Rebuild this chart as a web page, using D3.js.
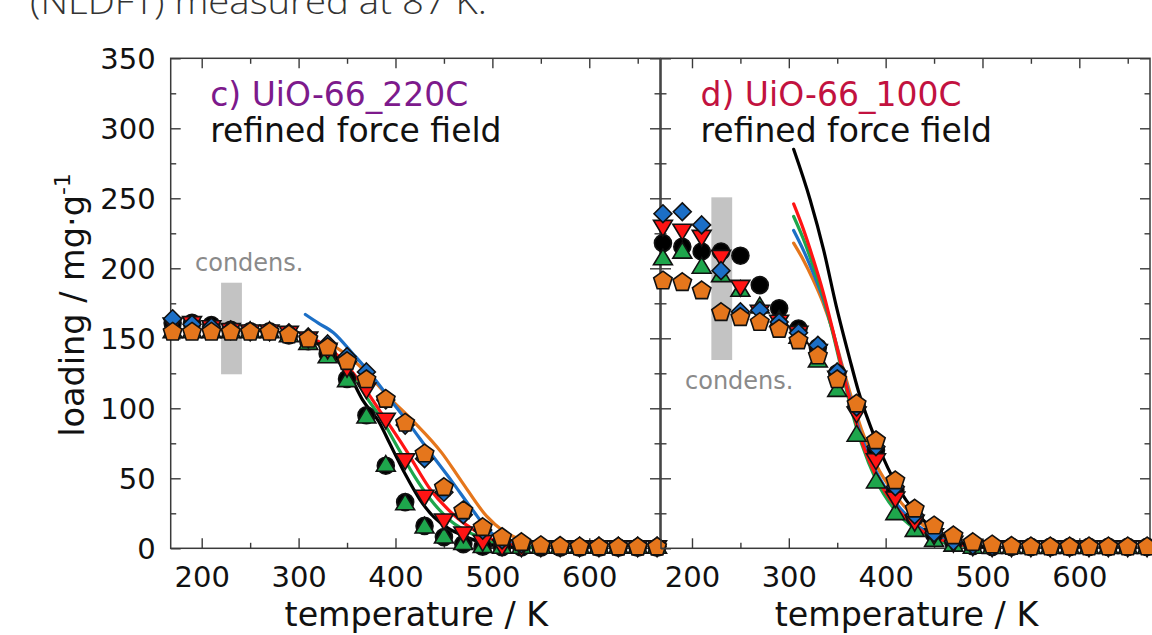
<!DOCTYPE html>
<html><head><meta charset="utf-8">
<script src="https://cdn.jsdelivr.net/npm/d3@7"></script>
<style>body{margin:0;background:#fff;overflow:hidden}svg{display:block}</style>
</head><body>
<svg id="chart" width="1152" height="635"></svg>
<script>
// ---------------- data ----------------
const temperatures = [170,190,210,230,250,270,290,310,330,350,370,390,410,430,450,470,490,510,530,550,570,590,610,630,650,670];

// panel c) UiO-66_220C  (experimental markers)
const c_black  = [161,161,159.5,156,155,155,152,148,139,121,95,59,33,16,8,3,1.2,0.8,0.6,0.5,0.5,0.5,0.5,0.5,0.5,0.5];
const c_blue   = [164,160,158,156,155,155,154,151,146,137,126,106,88,64,40,24,13,6,3,1.8,1.5,1.5,1.5,1.5,1.5,1.5];
const c_red    = [160,161,158,156,155,155,154,150,142,129,113.6,92,63,37,20,10.7,4.7,1.5,0.8,0.8,0.8,0.8,0.8,0.8,0.8,0.8];
const c_green  = [155,155,155,155,155,155,152,146.6,137,120,94,59.5,32,15.4,8.3,3.6,1.5,1,1,1,1,1,1,1,1,1];
const c_orange = [155,155,155,155,155,155,153,150,144,134,121,107,90,68,44,27.4,15.4,8.3,4.7,2.5,2,1.6,1.5,1.5,1.5,1.5];

// panel c) simulated curves [T, loading]
const c_lineBlack  = [[320,146],[335,139],[350,127],[366,106],[384,89],[394,75],[410,53],[425,35],[440,22],[455,14],[470,9],[490,4],[510,1.5],[530,0.6]];
const c_lineGreen  = [[320,146],[345,132],[358,122],[370,108],[384,94],[404,70],[420,51],[436,35],[458,19],[480,10],[500,4.5],[520,1.5],[540,0.5]];
const c_lineRed    = [[320,148],[340,138],[360,122],[384,98],[411,70],[436,42],[460,24],[487,10.7],[505,5],[520,2.5]];
const c_lineBlue   = [[307,167],[320,161],[336,154],[356,139],[375,124],[395,106],[415,88],[434,70],[458,48],[480,27],[497,12],[510,6],[525,2.5],[545,0.8]];
const c_lineOrange = [[328,148],[350,138],[372,124],[393,108],[418,91],[448,68],[468,48],[494,23],[512,12],[530,6],[550,2.5],[570,1]];

// panel d) UiO-66_100C
const d_black  = [218,215.4,212,212,209,188,171.4,157,143.5,125,102,70,41.6,22,10,4,1.5,1,1,1,1,1,1,1,1,1];
const d_blue   = [239,240.4,231,198.3,169,170,161.6,154,145,126,101,72.6,44,23.8,11,5,2,1.2,1,1,1,1,1,1,1,1];
const d_red    = [229.7,227,222.6,208.3,186.9,169,162,154,141,122,96.4,63,35.7,19,9.5,4,1.5,0.8,0.8,0.8,0.8,0.8,0.8,0.8,0.8,0.8];
const d_green  = [207,211.8,201,195,184.5,172.6,163,151,134,113,81,47.6,25,13,5.9,2.5,1,0.8,0.8,0.8,0.8,0.8,0.8,0.8,0.8,0.8];
const d_orange = [191.6,190.4,184.5,169,165.4,161.9,157,148.8,138,121,103.6,77.4,48.8,28.6,16.6,9.5,4.7,3,2,1.6,1.6,1.6,1.6,1.6,1.6,1.6];

const d_lineBlack  = [[305,285],[322,249],[336,213],[349,173],[363,135],[372,112],[390,77],[414,42],[442,18],[469,6],[494,1.5],[510,0.5]];
const d_lineRed    = [[305,246],[315,228],[325,207],[335,184],[345,157],[355,128],[365,101],[375,77],[390,52],[410,30],[430,16],[450,8],[470,3.5],[490,1.2]];
const d_lineGreen  = [[305,237],[315,221],[325,202],[335,181],[345,155],[355,126],[365,98],[375,75],[390,49],[410,27],[430,14],[450,6.5],[470,2.5],[490,1]];
const d_lineBlue   = [[305,227],[315,213],[325,197],[335,179],[345,156],[355,129],[365,103],[375,80],[390,55],[410,33],[430,18],[450,9],[470,4],[490,1.5]];
const d_lineOrange = [[305,218],[315,206],[325,192],[335,176],[345,156],[355,131],[365,107],[375,85],[390,60],[410,38],[430,22],[450,11],[470,5],[490,2],[510,0.8]];

// condensation bands [T0, T1, load0, load1]
const c_condens = [220, 241.5, 124.3, 189.7];
const d_condens = [220, 241.5, 134.5, 250.7];

const xTicksMajor = [200,300,400,500,600];
const xTicksMinor = [250,350,450,550,650];
const yTicksMajor = [0,50,100,150,200,250,300,350];
const yTicksMinor = [25,75,125,175,225,275,325];

const titleText = "(NLDFT) measured at 87 K.";

// ---------------- drawing ----------------
const svg = d3.select("#chart");
const FONT = "DejaVu Sans, sans-serif";
const COL = {black:"#000000", blue:"#1c6fc6", red:"#ff1414", green:"#1ea64c", orange:"#e5761c"};

svg.append("text").attr("x",30).attr("y",14).attr("font-family","Open Sans, sans-serif")
  .attr("font-weight",300).attr("font-size",35).attr("fill","#333")
  .attr("textLength",457).attr("lengthAdjust","spacingAndGlyphs").text(titleText);

const yTop = 58.3, yBot = 548.3;
const y = d3.scaleLinear().domain([0,350]).range([yBot, yTop]);

function symPath(type, r){
  const p = d3.path();
  if(type==="circle"){ p.arc(0,0,r,0,2*Math.PI); p.closePath(); return p.toString(); }
  let pts=[];
  if(type==="diamond"){ pts=[[0,-r*1.05],[r*1.05,0],[0,r*1.05],[-r*1.05,0]]; }
  if(type==="tup"){ pts=[[0,-r*1.05],[r*1.05,r*0.7],[-r*1.05,r*0.7]]; }
  if(type==="tdown"){ pts=[[0,r*1.05],[r*1.05,-r*0.7],[-r*1.05,-r*0.7]]; }
  if(type==="pent"){ for(let i=0;i<5;i++){const a=-Math.PI/2+i*2*Math.PI/5; pts.push([r*1.08*Math.cos(a), r*1.08*Math.sin(a)+0.8]);} }
  p.moveTo(pts[0][0],pts[0][1]); pts.slice(1).forEach(q=>p.lineTo(q[0],q[1])); p.closePath();
  return p.toString();
}

function panel(cfg){
  const x = d3.scaleLinear().domain([168,673]).range([cfg.x0, cfg.x1]);
  const g = svg.append("g");
  const axisCol = "#3a3a3a";

  // condensation band
  const b = cfg.condens;
  g.append("rect").attr("x",x(b[0])).attr("width",x(b[1])-x(b[0]))
    .attr("y",y(b[3])).attr("height",y(b[2])-y(b[3])).attr("fill","#c3c3c3");
  g.append("text").attr("x",cfg.condensPos[0]).attr("y",cfg.condensPos[1])
    .attr("font-family",FONT).attr("font-size",24).attr("fill","#8a8a8a").text("condens.");

  // axes: inward ticks on all four sides
  const mk = (axisFn, scale, vals, size, tr, fmt) => {
    const a = axisFn(scale).tickValues(vals).tickSize(size).tickPadding(10);
    a.tickFormat(fmt ? fmt : ()=>"");
    const ag = g.append("g").attr("transform",tr).call(a);
    ag.select(".domain").remove();
    ag.selectAll("line").attr("stroke",axisCol).attr("stroke-width",1.4);
    ag.selectAll("text").attr("font-family",FONT).attr("font-size",29).attr("fill","#111");
    return ag;
  };
  const xb = mk(d3.axisBottom, x, xTicksMajor, -10, `translate(0,${yBot})`, d=>d);
  xb.selectAll("text").attr("dy",null).attr("y",null).attr("transform","translate(0,38.5)");
  mk(d3.axisBottom, x, xTicksMinor, -5.5, `translate(0,${yBot})`);
  mk(d3.axisTop, x, xTicksMajor, -10, `translate(0,${yTop})`);
  mk(d3.axisTop, x, xTicksMinor, -5.5, `translate(0,${yTop})`);
  const yl = mk(d3.axisLeft, y, yTicksMajor, -10, `translate(${cfg.x0},0)`, cfg.yLabels ? d=>d : null);
  if(cfg.yLabels){ yl.selectAll("text").attr("x",-15).attr("dy","0.36em"); }
  mk(d3.axisLeft, y, yTicksMinor, -5.5, `translate(${cfg.x0},0)`);
  mk(d3.axisRight, y, yTicksMajor, -10, `translate(${cfg.x1},0)`);
  mk(d3.axisRight, y, yTicksMinor, -5.5, `translate(${cfg.x1},0)`);
  g.append("rect").attr("x",cfg.x0).attr("y",yTop).attr("width",cfg.x1-cfg.x0).attr("height",yBot-yTop)
    .attr("fill","none").attr("stroke",axisCol).attr("stroke-width",1.5);

  // x-axis title
  g.append("text").attr("x",(cfg.x0+cfg.x1)/2+1).attr("y",626).attr("text-anchor","middle")
    .attr("font-family",FONT).attr("font-size",33.3).attr("fill","#111").text("temperature / K");

  // annotations
  g.append("text").attr("x",cfg.x0+39.5).attr("y",106).attr("font-family",FONT).attr("font-size",33)
    .attr("fill",cfg.labelColor).text(cfg.label);
  g.append("text").attr("x",cfg.x0+39.5).attr("y",142).attr("font-family",FONT).attr("font-size",33)
    .attr("fill","#111").text("refined force field");

  // simulated lines
  const line = d3.line().x(d=>x(d[0])).y(d=>y(d[1])).curve(d3.curveMonotoneX);
  cfg.lines.forEach(([data,col])=>{
    g.append("path").attr("d",line(data)).attr("fill","none").attr("stroke",COL[col])
      .attr("stroke-width",3.2).attr("stroke-linecap","round");
  });

  // markers
  cfg.series.forEach(([vals,col,type,r])=>{
    g.append("g").selectAll("path").data(vals).join("path")
      .attr("transform",(d,i)=>`translate(${x(temperatures[i])},${y(d)})`)
      .attr("d",symPath(type,r)).attr("fill",COL[col]).attr("stroke","#111").attr("stroke-width",1.6);
  });
}

panel({x0:170.7, x1:660, yLabels:true, label:"c) UiO-66_220C", labelColor:"#7d1a8c",
  condens:c_condens, condensPos:[195,271],
  lines:[[c_lineOrange,"orange"],[c_lineBlue,"blue"],[c_lineGreen,"green"],[c_lineRed,"red"],[c_lineBlack,"black"]],
  series:[[c_black,"black","circle",8.5],[c_green,"green","tup",9],[c_red,"red","tdown",9],[c_blue,"blue","diamond",8.5],[c_orange,"orange","pent",9]]});

panel({x0:661, x1:1150, yLabels:false, label:"d) UiO-66_100C", labelColor:"#c2123f",
  condens:d_condens, condensPos:[685,389],
  lines:[[d_lineOrange,"orange"],[d_lineBlue,"blue"],[d_lineGreen,"green"],[d_lineRed,"red"],[d_lineBlack,"black"]],
  series:[[d_black,"black","circle",8.5],[d_green,"green","tup",9],[d_red,"red","tdown",9],[d_blue,"blue","diamond",8.5],[d_orange,"orange","pent",9]]});

// y-axis title
const yt = svg.append("text").attr("transform","translate(84,305) rotate(-90)").attr("text-anchor","middle")
  .attr("font-family",FONT).attr("font-size",33.5).attr("fill","#111");
yt.append("tspan").text("loading / mg\u00B7g");
yt.append("tspan").attr("dy",-14).attr("font-size",22).text("-1");
</script>
</body></html>
